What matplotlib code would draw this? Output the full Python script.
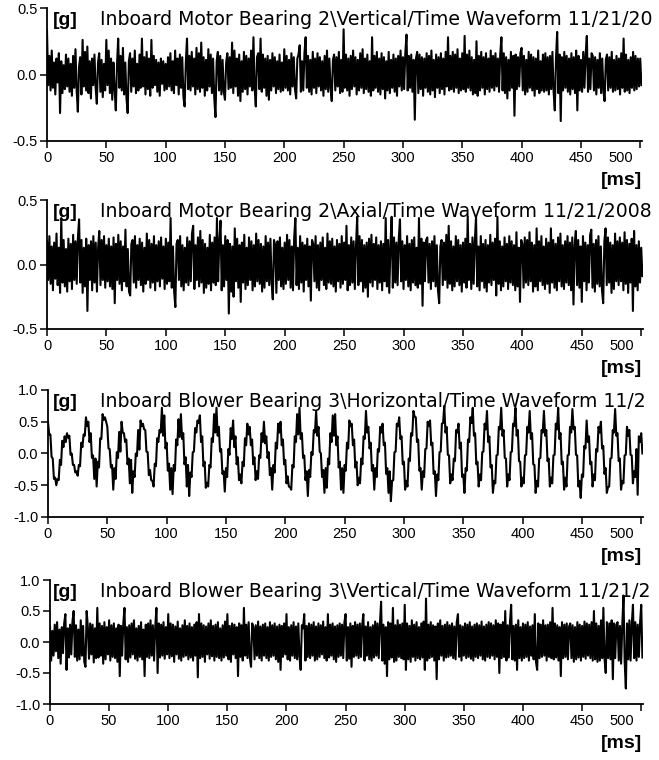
import numpy as np
import matplotlib
matplotlib.use('Agg')
from matplotlib import pyplot as plt
from matplotlib.ticker import FormatStrFormatter
from matplotlib.transforms import ScaledTranslation

# acceleration in 0.01 g, one sample per millisecond
motor_vertical = [
    33, -8, 14, -12, 18, -10, 9, -15, 12, -6, 16, -29, 10, -14, 7, -11, 15, -9, 12, -13,
    8, -16, 14, -10, 19, -12, -28, 6, 13, -15, 26, -9, 17, -12, 21, -14, 10, -18, 12, -8,
    15, -10, -22, 9, 16, -13, 11, -17, 8, -12, 26, -8, 18, -14, 12, -19, 9, -11, -27, 7,
    27, -10, 14, -12, 20, -15, 9, -18, -29, 10, 16, -13, 12, -9, 18, -14, 8, -12, 15, -10,
    27, -9, 13, -15, 17, -11, 12, -16, 26, -10, 14, -8, 11, -13, 9, -16, 12, -7, 10, -12,
    8, -11, 13, -9, 16, -12, 10, -14, 18, -8, 12, -15, 15, -10, 13, -17, -24, 9, 27, -11,
    14, -12, 17, -9, 12, -15, 20, -11, 16, -13, 24, -10, 13, -16, 11, -12, 19, -9, 15, -14,
    12, -18, -32, 10, 17, -12, 14, -15, 11, -13, -19, 9, 16, -11, 13, -10, 24, -14, 18, -9,
    12, -16, 15, -20, 10, -13, 17, -11, 14, -15, 12, -9, 18, -12, 28, -10, -24, 13, 16, -11,
    27, -13, 15, -10, 12, -16, 14, -19, 11, -12, 16, -9, 13, -14, 10, -11, 15, -13, 9, -12,
    19, -10, 14, -12, 11, -15, 16, -9, 13, -11, -18, 12, 15, 22, -13, 10, -12, 16, 28, -10,
    14, -13, 11, -15, 17, -10, 12, -14, 16, -9, 13, -12, 10, -16, 14, -11, 18, -13, 12, -10,
    -20, 11, 15, -12, 13, -9, 17, -14, 11, -13, 34, -10, 15, -12, 12, -16, 14, -11, 18, -9,
    13, -15, 11, -12, 16, -10, 19, -14, 12, -11, 15, -13, 10, -16, 28, -12, 14, -10, 17, -13,
    12, -15, 16, -11, 13, -18, 10, -12, 17, -14, 11, -10, 15, -13, 12, -16, 14, -9, 18, -12,
    13, -11, 16, 30, -12, 14, -10, 15, -13, 11, -34, 12, 17, -14, 15, -11, 13, -16, 12, -10,
    16, -13, 14, -15, 18, -12, 11, -17, 15, -10, 13, -14, 16, -11, 12, -15, 17, -9, 28, -12,
    14, -11, 17, -13, 15, -10, 19, -14, 12, -12, 16, -11, 29, -13, 15, -10, 18, -12, 13, -15,
    11, -14, 25, -16, 14, -12, 17, -10, 13, -15, 16, -11, 12, -13, 18, -10, 14, -12, 16, -9,
    12, -13, 15, 28, -12, 16, -14, 13, -18, 11, -12, 17, -10, 14, -31, 15, -11, 13, -9, 16,
    20, -12, 14, -15, 11, -13, 17, -10, 15, -12, 13, -16, 12, -11, 18, -14, 10, -12, 15, -13,
    16, -12, 13, -15, 14, -11, 17, -13, -27, 12, 32, -14, 15, -35, 13, -12, 17, -10, 14, -13,
    12, -15, 16, -11, 13, -14, 18, -27, 14, -12, 11, -13, 17, -10, 15, 29, -13, 12, -11, 16,
    14, -12, 13, -15, 11, -10, 16, -14, 12, -13, -20, 11, 15, -12, 13, -10, 17, -13, 11, -12,
    14, -11, 12, -15, 16, -10, 27, -13, 15, -12, 11, -14, 13, -10, 17, -12, 14, -11, 12, -9,
    12, -8,
]

motor_axial = [
    18, -12, 22, -15, 14, -20, 17, -11, 24, -16, 13, -22, 36, -14, 19, -17, 12, -21, 20, -13,
    16, -19, 23, -12, 18, -15, 21, 35, -14, 19, -22, 13, -17, 20, -36, 15, -12, 18, -20, 22,
    -14, 17, -21, 13, 26, -16, 19, -12, 22, -18, 15, -13, 20, -17, 14, -19, 21, -30, 16, -12,
    23, -15, 18, -20, 14, -13, 27, -17, 12, -21, -24, 16, 19, -14, 22, -18, 15, -12, 20, -16,
    17, -21, 13, -15, 24, -12, 19, -18, 16, -14, 22, -20, 15, -13, 18, -17, 21, -11, 14, -19,
    20, -15, 17, -13, 36, -18, 14, -21, -33, 16, 19, -12, 22, -17, 15, -20, 13, -14, 21, -16,
    18, -13, 24, 30, -19, 15, -12, 21, -17, 26, -14, 19, -22, 16, -18, 13, -15, 23, -20, 17,
    -14, 21, -16, 36, -13, 18, 34, -20, 15, -17, 22, -12, 19, -38, 16, -21, 14, -25, 28, -13,
    20, -18, 15, -29, 17, -14, 23, -19, 13, -16, 21, -12, 18, -20, 15, -17, 24, -13, 19, -15,
    16, -21, 14, -18, 22, -13, 17, -16, 20, -14, -27, 19, 15, -22, 18, -12, 21, -17, 13, -19,
    17, -15, 23, -12, 19, -18, 14, -20, 21, 36, -16, 13, -19, 22, -14, 17, -21, 15, -12, 20,
    -17, 14, -28, 19, 16, -13, 22, -18, 15, -20, 17, -12, 21, -16, 13, -19, 24, -14, 18, -15,
    20, -17, 14, -21, 19, -13, 16, -18, 22, -15, 17, -12, 30, -20, 15, -16, 21, -14, 18, -19,
    14, 37, -16, 22, -13, 19, -21, 15, -18, 17, -25, 20, -14, 23, -17, 16, -12, 21, -19, 15,
    -14, 18, -20, 16, -13, 36, -17, 19, -22, 15, 37, -18, 21, -14, 17, -16, 20, 35, -13, 18,
    -19, 15, -12, 22, -17, 16, -20, 19, -14, 21, -16, 13, -18, 36, -15, 20, -32, 17, -13, 19,
    21, -14, 16, -19, 18, -13, 22, -17, 15, -20, -30, 14, 19, -16, 17, -12, 23, -18, 30, -15,
    18, -20, 14, -17, 22, -13, 19, -16, 15, -21, 17, -14, 20, -18, 37, -12, 16, -19, 21, -15,
    18, 37, -17, 14, -20, 22, -13, 16, -18, 19, -21, 15, -14, 23, -16, 17, -12, 20, -24, 37,
    -15, 18, -20, 14, -17, 21, -13, 16, -19, 22, -14, 18, -16, 15, -20, 25, -17, 13, -29, 19,
    16, -18, 21, -14, 19, -16, 25, -13, 17, -21, 15, -17, 28, -20, 18, -13, 22, -16, 14, -19,
    20, -15, 17, -22, 28, -14, 19, -18, 16, -20, 21, -13, 24, -17, 15, -19, 18, -14, 22, -16,
    17, -20, 21, -31, 15, 26, -16, 19, -18, 14, -29, 22, -13, 17, -20, 15, -14, 23, 27, -18,
    16, -21, 19, -15, 22, -17, 14, -20, -30, 18, 28, -16, 21, -14, 17, -22, 15, -19, 24, -13,
    18, -16, 21, -13, 17, -20, 25, -15, 19, -22, 16, -14, 20, -36, 26, -17, 15, -20, 18, -14,
    13, -9,
]

blower_horizontal = [
    50, 30, 30, -5, -8, -40, -38, -50, -40, -42, -10, -18, 20, 10, 27, 18,
    32, 25, 28, -2, 0, -18, -18, -30, -28, -35, -18, -20, 17, 10, 30, 28,
    57, 43, 50, 18, 32, -7, -3, -40, -8, -52, -13, -22, 24, 23, 62, 53,
    57, 50, 42, 8, 7, -22, -18, -57, -23, -40, 2, -7, 34, 3, 50, 33,
    32, 18, 22, -17, -8, -47, -10, -62, -28, -37, 0, -4, 37, 6, 52, 43,
    47, 38, 37, 3, 2, -34, -26, -42, -43, -52, -16, -20, 24, 18, 37, 33,
    72, 28, 60, 8, 17, -27, -16, -57, -23, -64, -18, -27, 22, 13, 54, 26,
    62, 23, 32, -17, -6, -52, -18, -67, -30, -37, 2, 3, 40, 33, 52, 48,
    60, 18, 27, -20, -13, -54, -46, -52, -18, -22, 24, 18, 62, 33, 72, 28,
    42, 3, 7, -32, -28, -60, -23, -37, 7, -2, 40, 23, 52, 10, 27, -17,
    -6, -42, -33, -47, -13, -20, 24, 13, 47, 30, 42, 13, 22, -17, -6, -42,
    -28, -40, -3, -7, 32, 18, 50, 16, 27, -7, 2, -34, -23, -57, -18, -30,
    17, 8, 47, 33, 50, 13, 22, -17, -10, -47, -36, -52, -53, -57, -18, -22,
    27, 18, 62, 30, 72, 23, 32, -7, -3, -42, -28, -67, -26, -37, 2, -2,
    37, 33, 67, 28, 42, 3, 0, -37, -26, -62, -23, -54, -8, -17, 32, 18,
    60, 28, 62, 13, 27, -22, -13, -57, -23, -62, -18, -27, 17, 8, 52, 43,
    47, 13, 22, -22, -13, -50, -38, -47, -8, -17, 27, 23, 67, 33, 42, 8,
    17, -27, -18, -57, -23, -37, 7, 3, 42, 33, 47, 13, 17, -32, -23, -62,
    -28, -75, -43, -42, 2, 3, 47, 43, 57, 23, 27, -17, -13, -57, -43, -52,
    -8, -12, 32, 28, 67, 58, 57, 18, 22, -27, -23, -57, -28, -37, 7, 8,
    50, 43, 52, 13, 17, -32, -28, -67, -33, -42, 2, 3, 47, 48, 75, 33,
    42, -2, -3, -47, -33, -42, -8, -12, 37, 33, 47, 8, 17, -37, -33, -62,
    -23, -27, 22, 18, 57, 48, 72, 28, 32, -17, -13, -52, -33, -42, 2, 3,
    47, 38, 67, 18, 27, -22, -18, -62, -43, -47, -3, -2, 42, 38, 72, 28,
    37, -7, -8, -52, -33, -42, 2, 3, 47, 43, 72, 28, 37, -12, -13, -52,
    -38, -47, -3, -2, 42, 33, 67, 23, 32, -17, -18, -62, -43, -52, -8, -7,
    37, 33, 67, 28, 37, -12, -8, -52, -38, -47, -3, -2, 47, 38, 72, 23,
    32, -17, -13, -57, -38, -52, -3, -2, 42, 33, 70, 38, 42, -2, -3, -52,
    -43, -70, -33, -37, 12, 8, 52, 18, 27, -17, -13, -52, -33, -42, 7, 3,
    42, 33, 50, 8, 12, -32, -23, -62, -53, -52, -8, -7, 37, 33, 70, 28,
    32, -12, -8, -57, -43, -47, -3, -2, 42, 28, 37, -2, -3, -47, -28, -37,
    7, -65, 27, 18, 32, 0,
]

blower_vertical = [
    25, -30, 18, -22, 28, -15, 32, -26, 20, -35, 24, -18, 30, 45, -45, 22, -25, 28, -20, 33,
    50, -24, 27, -30, 20, -28, 35, -22, 26, -32, -40, 50, 24, -27, 30, -20, 28, -33, 22, -26,
    55, -25, 30, -22, 26, -35, 32, -28, 24, -20, 35, -30, 27, -24, 30, -26, 22, -32, 28, -55,
    26, -22, 30, 55, -28, 24, -32, 27, -25, 30, -20, 35, -27, 22, -30, 26, -24, 32, -28, 20,
    -55, 28, -24, 30, -26, 35, -22, 27, -30, 24, 55, -50, 30, -25, 28, -22, 32, -27, 24, -20,
    45, -26, 30, -23, 28, -32, 25, -20, 33, -27, 22, -30, 27, -24, 35, -22, 26, -28, 30, -25,
    24, -30, 28, -22, 32, -57, 45, -26, 30, -24, 27, -32, 25, -20, 30, -27, 35, -23, 26, -30,
    28, -24, 32, -26, 22, -30, 27, -25, 33, -22, 45, -28, 26, -32, 30, -20, 28, -26, 24, -55,
    30, -24, 27, -30, 55, -22, 28, -26, 32, -25, -40, 30, 24, -28, 27, -22, 33, -26, 25, -30,
    28, -22, 30, -26, 24, -30, 32, -24, 27, -22, 30, -28, 25, -32, 28, -45, 26, -24, 30, -20,
    45, -28, 24, -30, 27, -22, 32, -26, 25, -28, 30, -24, -45, 27, 22, 45, -30, 26, -24, 30,
    -26, 28, -22, 32, -30, 25, -28, 30, -24, 27, -20, 33, -26, 24, -30, 45, -25, 28, -22, 30,
    -28, 25, -32, 27, -24, 30, -22, 28, -26, 32, 45, -30, 24, -27, 30, -40, 26, -24, 32, -22,
    28, -26, 30, -24, 27, 45, -30, 25, -22, 32, -28, 24, -30, 27, -25, 33, -22, 30, -26, 28,
    65, -30, 28, -35, 24, -55, 32, -28, 30, -25, 55, -32, 27, -30, 35, -24, 28, -26, 30, -28,
    60, -45, 30, -28, 26, -32, 35, -24, 28, -30, 32, -26, 24, -28, 30, -25, 33, -45, 70, -30,
    28, -26, 32, -24, 27, -30, 25, -60, 30, -28, 35, -22, 26, -30, 28, -25, 32, -24, 27, -22,
    30, -26, 25, -28, 32, 45, -24, 27, -30, 25, -22, 30, -26, 28, -24, 32, -27, 25, -30, 28,
    -24, 30, -26, 27, -22, 33, -28, 25, -30, 28, -24, 32, -26, 30, -22, 27, -28, 35, -24, 30,
    -50, 28, -26, 32, -24, 50, -30, 27, -25, 32, 60, -28, 26, -30, 28, -45, 35, -26, 24, -30,
    30, -26, 28, -24, 32, -30, 25, -22, 27, -28, 45, -32, -45, 30, -26, 28, -24, 35, -22, 27,
    -30, 28, -24, 32, -26, 55, -28, 30, -25, 27, -30, 24, -55, 32, -26, 28, -24, 30, -28, 25,
    30, -26, 27, -32, 24, -28, 32, -25, 28, -30, 26, -24, 33, -27, 30, -22, 28, -26, 32, -30,
    50, -28, 30, -32, 26, -30, 35, -26, 55, -28, -50, 32, -26, 30, -28, 35, -60, 30, -26, 28,
    32, -30, 26, -35, 28, 75, -32, -75, 30, -28, 35, -30, 28, 60, -26, 32, -30, 28, -24, 30,
    60, -25,
]

titles = [
    'Inboard Motor Bearing 2\\Vertical/Time Waveform 11/21/20',
    'Inboard Motor Bearing 2\\Axial/Time Waveform 11/21/2008',
    'Inboard Blower Bearing 3\\Horizontal/Time Waveform 11/2',
    'Inboard Blower Bearing 3\\Vertical/Time Waveform 11/21/2',
]
y_limits = [0.5, 0.5, 1.0, 1.0]
x_ticks = [0, 50, 100, 150, 200, 250, 300, 350, 400, 450, 500]

plt.rcParams['font.family'] = ['Liberation Sans', 'DejaVu Sans']

W, H = 659, 760
fig = plt.figure(figsize=(W / 100, H / 100), dpi=100)

# axes boxes in pixels: left, top, right, bottom
boxes = [(47, 8, 642, 141), (47, 200, 643, 329), (48, 390, 643, 517), (50, 580, 643, 704)]
signals = [motor_vertical, motor_axial, blower_horizontal, blower_vertical]

for sig, box, lim, title in zip(signals, boxes, y_limits, titles):
    l, t, r, b = box
    ax = fig.add_axes([l / W, 1 - b / H, (r - l) / W, (b - t) / H])
    g = np.array(sig) / 100.0
    ms = np.arange(len(g))
    ax.plot(ms, g, color='black', lw=1.5)
    ax.set_xlim(0, 501.5)
    ax.set_ylim(-lim, lim)
    ax.set_xticks(x_ticks)
    if lim == 1.0:
        ax.set_yticks([-1.0, -0.5, 0.0, 0.5, 1.0])
    else:
        ax.set_yticks([-0.5, 0.0, 0.5])
    ax.yaxis.set_major_formatter(FormatStrFormatter('%.1f'))
    for s in ['top', 'right']:
        ax.spines[s].set_visible(False)
    for s in ['left', 'bottom']:
        ax.spines[s].set_linewidth(1.3)
    ax.tick_params(direction='out', length=5, width=1.1, pad=2,
                   labelsize=10.5, colors='black')
    last = ax.get_xticklabels()[-1]
    last.set_horizontalalignment('right')
    last.set_transform(last.get_transform() + ScaledTranslation(-0.07, 0, fig.dpi_scale_trans))

    fig.text(53 / W, 1 - (t + 17) / H, '[g]', fontsize=14, fontweight='bold',
             va='baseline', ha='left')
    fig.text(100 / W, 1 - (t + 17) / H, title, fontsize=13.6, va='baseline', ha='left',
             family='DejaVu Sans')
    fig.text(642 / W, 1 - (b + 44) / H, '[ms]', fontsize=14, fontweight='bold',
             va='baseline', ha='right')

fig.savefig('out.png', dpi=100)
